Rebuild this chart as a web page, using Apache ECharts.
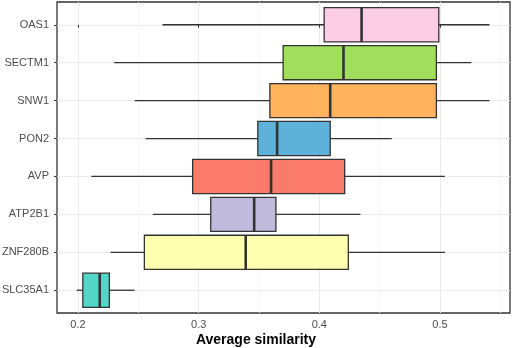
<!DOCTYPE html>
<html>
<head><meta charset="utf-8"></head>
<script type="text/javascript" src="https://cdn.jsdelivr.net/npm/echarts@6/dist/echarts.min.js"></script>
<body style="margin:0;background:#fff;">
    <div id="main" style="width:512px;height:348px;"></div>
</body>
<script type="text/javascript">
// genes, top to bottom
var categories = ['OAS1', 'SECTM1', 'SNW1', 'PON2', 'AVP', 'ATP2B1', 'ZNF280B', 'SLC35A1']
var lowWhisker = [0.270, 0.230, 0.247, 0.256, 0.211, 0.262, 0.227, 0.199]
var q1 = [0.404, 0.370, 0.359, 0.349, 0.295, 0.310, 0.255, 0.204]
var median = [0.435, 0.420, 0.409, 0.365, 0.360, 0.346, 0.339, 0.218]
var q3 = [0.499, 0.497, 0.497, 0.409, 0.421, 0.364, 0.424, 0.226]
var highWhisker = [0.541, 0.526, 0.541, 0.460, 0.504, 0.434, 0.504, 0.247]
var boxColors = ['#FDCDE6', '#A2DE5E', '#FFB35C', '#5EB1D8', '#FA7A6B', '#C0BBDD', '#FFFFB0', '#52D6C8']
var majorTicks = [0.2, 0.3, 0.4, 0.5]
var minorTicks = [0.25, 0.35, 0.45, 0.55]

var data = []
for (var i = 0; i < categories.length; i++) {
    data.push([i, lowWhisker[i], q1[i], median[i], q3[i], highWhisker[i]])
}
var rows = categories.map(function (c, i) { return i })

// whiskers + box + thick median, like ggplot geom_boxplot
function renderBox(params, api) {
    var y = api.value(0)
    var half = api.size([0, 1])[1] * 0.45
    var pLow = api.coord([api.value(1), y])
    var pQ1 = api.coord([api.value(2), y])
    var pMed = api.coord([api.value(3), y])
    var pQ3 = api.coord([api.value(4), y])
    var pHigh = api.coord([api.value(5), y])
    var dark = '#333333'
    return {
        type: 'group',
        children: [
            {type: 'line', shape: {x1: pLow[0], y1: pLow[1], x2: pQ1[0], y2: pQ1[1]},
             style: {stroke: dark, lineWidth: 1.3}},
            {type: 'line', shape: {x1: pQ3[0], y1: pQ3[1], x2: pHigh[0], y2: pHigh[1]},
             style: {stroke: dark, lineWidth: 1.3}},
            {type: 'rect', shape: {x: pQ1[0], y: pQ1[1] - half, width: pQ3[0] - pQ1[0], height: half * 2},
             style: {fill: boxColors[params.dataIndex], stroke: dark, lineWidth: 1.3}},
            {type: 'line', shape: {x1: pMed[0], y1: pMed[1] - half, x2: pMed[0], y2: pMed[1] + half},
             style: {stroke: dark, lineWidth: 2.6}}
        ]
    }
}

var myChart = echarts.init(document.getElementById('main'))
myChart.setOption({
    animation: false,
    textStyle: {fontFamily: 'Liberation Sans, Arial, sans-serif'},
    title: {
        text: 'Average similarity',
        left: 'center',
        top: 328,
        textStyle: {fontSize: 14, fontWeight: 'bold', color: '#000', fontFamily: 'Liberation Sans, Arial, sans-serif'}
    },
    grid: {left: 57, right: 2, top: 2, bottom: 35, outerBoundsMode: 'none',
           show: true, borderColor: '#333333', borderWidth: 1.3, backgroundColor: 'transparent'},
    xAxis: [
        {
            type: 'value',
            min: 0.1826,
            max: 0.558,
            axisLine: {show: false},
            axisTick: {show: true, length: 3, lineStyle: {color: '#333333'}, customValues: majorTicks},
            axisLabel: {fontSize: 11, color: '#4D4D4D', margin: 6, customValues: majorTicks,
                        formatter: function (v) { return v.toFixed(1) }},
            splitLine: {show: true, lineStyle: {color: '#EBEBEB', width: 1}}
        },
        {
            type: 'value',
            min: 0.1826,
            max: 0.558,
            position: 'bottom',
            axisLine: {show: false},
            axisTick: {show: false, customValues: minorTicks},
            axisLabel: {show: false, customValues: minorTicks},
            splitLine: {show: true, lineStyle: {color: '#F5F5F5', width: 0.8}}
        }
    ],
    yAxis: {
        type: 'value',
        min: -0.6,
        max: 7.6,
        inverse: true,
        axisLine: {show: false},
        axisTick: {show: true, length: 3, lineStyle: {color: '#333333'}, customValues: rows},
        axisLabel: {fontSize: 11, color: '#4D4D4D', margin: 8, customValues: rows,
                    formatter: function (v) { return categories[Math.round(v)] }},
        splitLine: {show: true, lineStyle: {color: '#EBEBEB', width: 1}}
    },
    series: [{
        type: 'custom',
        renderItem: renderBox,
        encode: {x: [1, 2, 3, 4, 5], y: 0},
        data: data
    }]
})
</script>
</html>
